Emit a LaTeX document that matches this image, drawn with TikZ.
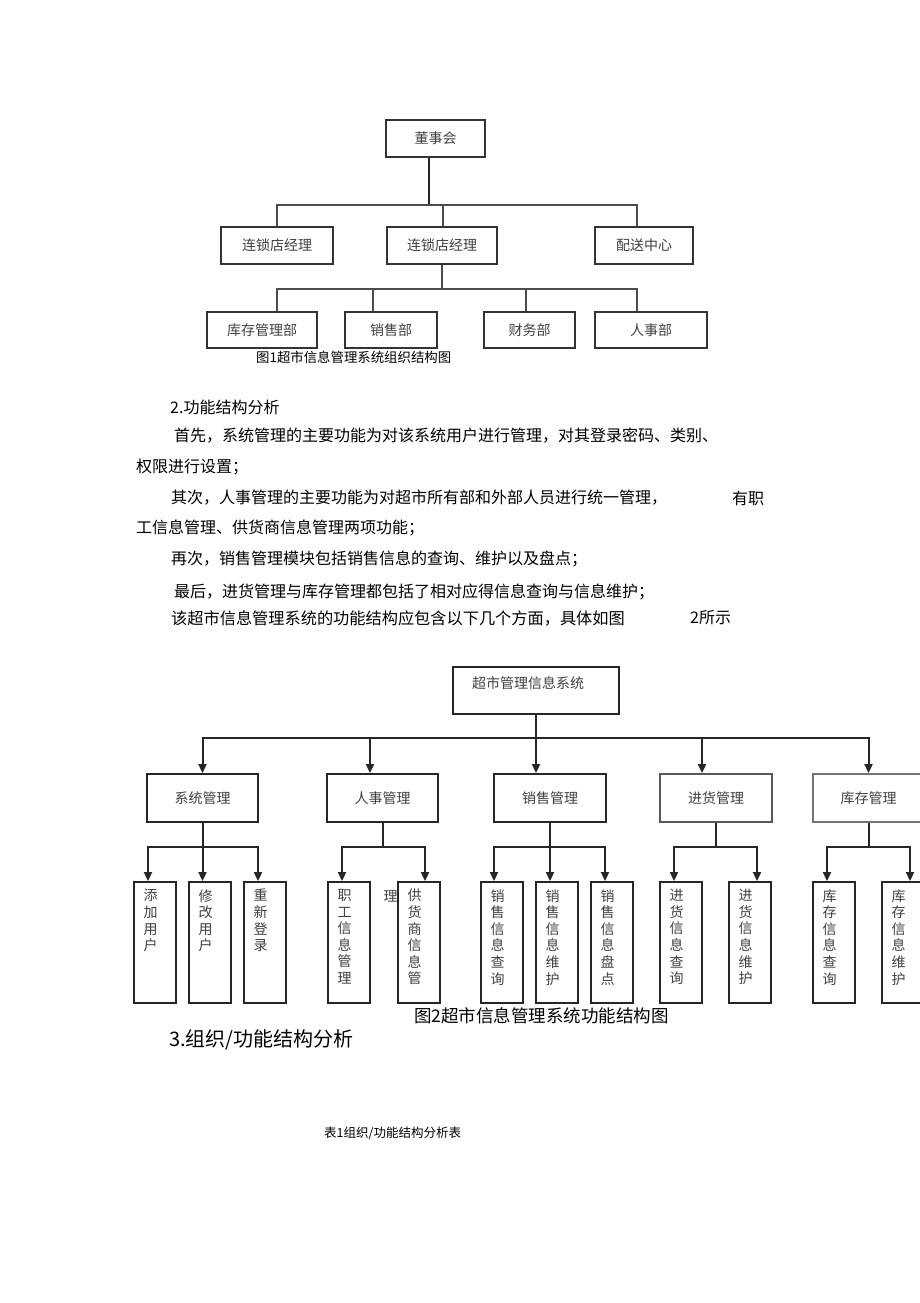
\documentclass[tikz,border=0pt]{standalone}
\usepackage{fontspec}
\setmainfont{Noto Sans CJK SC}
\usetikzlibrary{arrows.meta}

\begin{document}
\begin{tikzpicture}[x=1pt, y=-1pt,
    orgbox/.style ={rectangle, draw=black!80, line width=1.5pt, text=black!75,
      font=\fontsize{14}{14}\selectfont, inner sep=0pt},
    funbox/.style ={rectangle, draw=black!85, line width=1.9pt, text=black!75,
      font=\fontsize{14}{14}\selectfont, inner sep=0pt, minimum height=48pt},
    leafbox/.style ={rectangle, draw=black!85, line width=1.9pt,
      minimum width=42pt, minimum height=121pt, inner sep=0pt},
    leaftext/.style ={anchor=north, align=center, text=black!75,
      font=\fontsize{14}{16.6}\selectfont, inner sep=0pt},
    bodytext/.style ={anchor=west, inner sep=0pt, font=\fontsize{16}{16}\selectfont},
    orgline/.style ={draw=black!70, line width=1.3pt},
    funline/.style ={draw=black!85, line width=2pt},
    funarrow/.style ={funline, -{Triangle[length=9pt, width=8pt]}}]

   \fill[white] (0,0) rectangle (920,1303);
   \useasboundingbox (0,0) rectangle (920,1303);
   \clip (0,0) rectangle (920,1303);

   \node[orgbox, minimum width=99pt, minimum height=37pt] (dsh) at (435.5,138.5) {董事会};
   \node[orgbox, minimum width=112pt, minimum height=37pt] (jl1) at (277,245.5) {连锁店经理};
   \node[orgbox, minimum width=110pt, minimum height=37pt] (jl2) at (442,245.5) {连锁店经理};
   \node[orgbox, minimum width=98pt, minimum height=37pt] (psz) at (644,245.5) {配送中心};
   \node[orgbox, minimum width=110pt, minimum height=36pt] (kcb) at (262,330) {库存管理部};
   \node[orgbox, minimum width=92pt, minimum height=36pt] (xsb) at (391,330) {销售部};
   \node[orgbox, minimum width=91pt, minimum height=36pt] (cwb) at (529.5,330) {财务部};
   \node[orgbox, minimum width=112pt, minimum height=36pt] (rsb) at (651,330) {人事部};
   \coordinate (bus1) at (429,205);
   \coordinate (bus2) at (442,289);

   \draw[orgline, line width=2.6pt, draw=black!85] ([xshift=-6.5pt]dsh.south) to (bus1);
   \draw[orgline] (bus1) -| (jl1.north);
   \draw[orgline] (bus1) -| ([xshift=1pt]jl2.north);
   \draw[orgline] (bus1) -| ([xshift=-7pt]psz.north);
   \draw[orgline] (jl2.south) to (bus2);
   \draw[orgline] (bus2) -| ([xshift=15pt]kcb.north);
   \draw[orgline] (bus2) -| ([xshift=-18pt]xsb.north);
   \draw[orgline] (bus2) -| ([xshift=-3.5pt]cwb.north);
   \draw[orgline] (bus2) -| ([xshift=-14pt]rsb.north);

   \node[anchor=west, inner sep=0pt, font=\fontsize{13.4}{13.4}\selectfont] (cap1) at (256,357) {图1超市信息管理系统组织结构图};

   \node[bodytext] (t0) at (170,407) {2.功能结构分析};
   \node[bodytext] (t1) at (174,436) {首先，系统管理的主要功能为对该系统用户进行管理，对其登录密码、类别、};
   \node[bodytext] (t2) at (136,467) {权限进行设置；};
   \node[bodytext] (t3) at (171,498) {其次，人事管理的主要功能为对超市所有部和外部人员进行统一管理，};
   \node[bodytext] (t3b) at (732,498) {有职};
   \node[bodytext] (t4) at (136,528) {工信息管理、供货商信息管理两项功能；};
   \node[bodytext] (t5) at (171,559) {再次，销售管理模块包括销售信息的查询、维护以及盘点；};
   \node[bodytext] (t6) at (174,592) {最后，进货管理与库存管理都包括了相对应得信息查询与信息维护；};
   \node[bodytext, font=\fontsize{16.2}{16.2}\selectfont] (t7) at (171,618) {该超市信息管理系统的功能结构应包含以下几个方面，具体如图};
   \node[bodytext] (t7b) at (690,618) {2所示};

   \node[funbox, minimum width=166pt, minimum height=47pt] (root) at (536,690.5) {};
   \node[anchor=west, inner sep=0pt, text=black!75, font=\fontsize{14}{14}\selectfont] (roottext) at (472,683) {超市管理信息系统};
   \node[funbox, minimum width=111pt] (xtgl) at (202.5,798) {系统管理};
   \node[funbox, minimum width=111pt] (rsgl) at (382.5,798) {人事管理};
   \node[funbox, minimum width=112pt] (xsgl) at (550,798) {销售管理};
   \node[funbox, minimum width=112pt, draw=black!65] (jhgl) at (716,798) {进货管理};
   \node[funbox, minimum width=111pt, draw=black!55] (kcgl) at (868.5,798) {库存管理};
   \coordinate (bus3) at (536,738);

   \draw[funline] (root.south) to (bus3);
   \draw[funarrow] (bus3) -| (xtgl.north);
   \draw[funarrow] (bus3) -| ([xshift=-12.5pt]rsgl.north);
   \draw[funarrow] (bus3) to ([xshift=-14pt]xsgl.north);
   \draw[funarrow] (bus3) -| ([xshift=-14pt]jhgl.north);
   \draw[funarrow] (bus3) -| (kcgl.north);

   \node[leafbox] (tjyh) at (155,942.5) {};
   \node[leafbox] (xgyh) at (210,942.5) {};
   \node[leafbox] (cxdl) at (265,942.5) {};
   \node[leafbox] (zgxx) at (349,942.5) {};
   \node[leafbox] (ghxx) at (419,942.5) {};
   \node[leafbox] (xscx) at (502,942.5) {};
   \node[leafbox] (xswh) at (557,942.5) {};
   \node[leafbox] (xspd) at (612,942.5) {};
   \node[leafbox] (jhcx) at (681,942.5) {};
   \node[leafbox] (jhwh) at (750,942.5) {};
   \node[leafbox] (kccx) at (834,942.5) {};
   \node[leafbox] (kcwh) at (903,942.5) {};
   \coordinate (sb1) at (202.5,847);
   \coordinate (sb2) at (382.5,847);
   \coordinate (sb3) at (550,847);
   \coordinate (sb4) at (716,847);
   \coordinate (sb5) at (868.5,847);

   \draw[funline] (xtgl.south) to (sb1);
   \draw[funline] (rsgl.south) to (sb2);
   \draw[funline] (xsgl.south) to (sb3);
   \draw[funline] (jhgl.south) to (sb4);
   \draw[funline] (kcgl.south) to (sb5);
   \draw[funarrow] (sb1) -| ([xshift=-7pt]tjyh.north);
   \draw[funarrow] (sb1) to ([xshift=-7.5pt]xgyh.north);
   \draw[funarrow] (sb1) -| ([xshift=-7pt]cxdl.north);
   \draw[funarrow] (sb2) -| ([xshift=-7pt]zgxx.north);
   \draw[funarrow] (sb2) -| ([xshift=6pt]ghxx.north);
   \draw[funarrow] (sb3) -| ([xshift=-8pt]xscx.north);
   \draw[funarrow] (sb3) to ([xshift=-7pt]xswh.north);
   \draw[funarrow] (sb3) -| ([xshift=-7pt]xspd.north);
   \draw[funarrow] (sb4) -| ([xshift=-7pt]jhcx.north);
   \draw[funarrow] (sb4) -| ([xshift=7pt]jhwh.north);
   \draw[funarrow] (sb5) -| ([xshift=-7pt]kccx.north);
   \draw[funarrow] (sb5) -| ([xshift=7pt]kcwh.north);

   \node[leaftext] (tjyht) at ([xshift=-4.5pt, yshift=-8pt]tjyh.north) {添\\加\\用\\户};
   \node[leaftext] (xgyht) at ([xshift=-4.5pt, yshift=-8pt]xgyh.north) {修\\改\\用\\户};
   \node[leaftext] (cxdlt) at ([xshift=-4.5pt, yshift=-8pt]cxdl.north) {重\\新\\登\\录};
   \node[leaftext] (zgxxt) at ([xshift=-4.5pt, yshift=-8pt]zgxx.north) {职\\工\\信\\息\\管\\理};
   \node[leaftext] (ghxxt) at ([xshift=-4.5pt, yshift=-8pt]ghxx.north) {供\\货\\商\\信\\息\\管};
   \node[leaftext] (xscxt) at ([xshift=-4.5pt, yshift=-8pt]xscx.north) {销\\售\\信\\息\\查\\询};
   \node[leaftext] (xswht) at ([xshift=-4.5pt, yshift=-8pt]xswh.north) {销\\售\\信\\息\\维\\护};
   \node[leaftext] (xspdt) at ([xshift=-4.5pt, yshift=-8pt]xspd.north) {销\\售\\信\\息\\盘\\点};
   \node[leaftext] (jhcxt) at ([xshift=-4.5pt, yshift=-8pt]jhcx.north) {进\\货\\信\\息\\查\\询};
   \node[leaftext] (jhwht) at ([xshift=-4.5pt, yshift=-8pt]jhwh.north) {进\\货\\信\\息\\维\\护};
   \node[leaftext] (kccxt) at ([xshift=-4.5pt, yshift=-8pt]kccx.north) {库\\存\\信\\息\\查\\询};
   \node[leaftext] (kcwht) at ([xshift=-4.5pt, yshift=-8pt]kcwh.north) {库\\存\\信\\息\\维\\护};
   \node[leaftext] (extra) at (390.5,890) {理};

   \node[anchor=west, inner sep=0pt, font=\fontsize{17.5}{17.5}\selectfont] (cap2) at (414,1016) {图2超市信息管理系统功能结构图};
   \node[anchor=west, inner sep=0pt, font=\fontsize{20}{20}\selectfont] (sec3) at (169,1040) {3.组织/功能结构分析};
   \node[anchor=west, inner sep=0pt, font=\fontsize{12.5}{12.5}\selectfont] (tab1) at (324,1133) {表1组织/功能结构分析表};

 \end{tikzpicture}
\end{document}
